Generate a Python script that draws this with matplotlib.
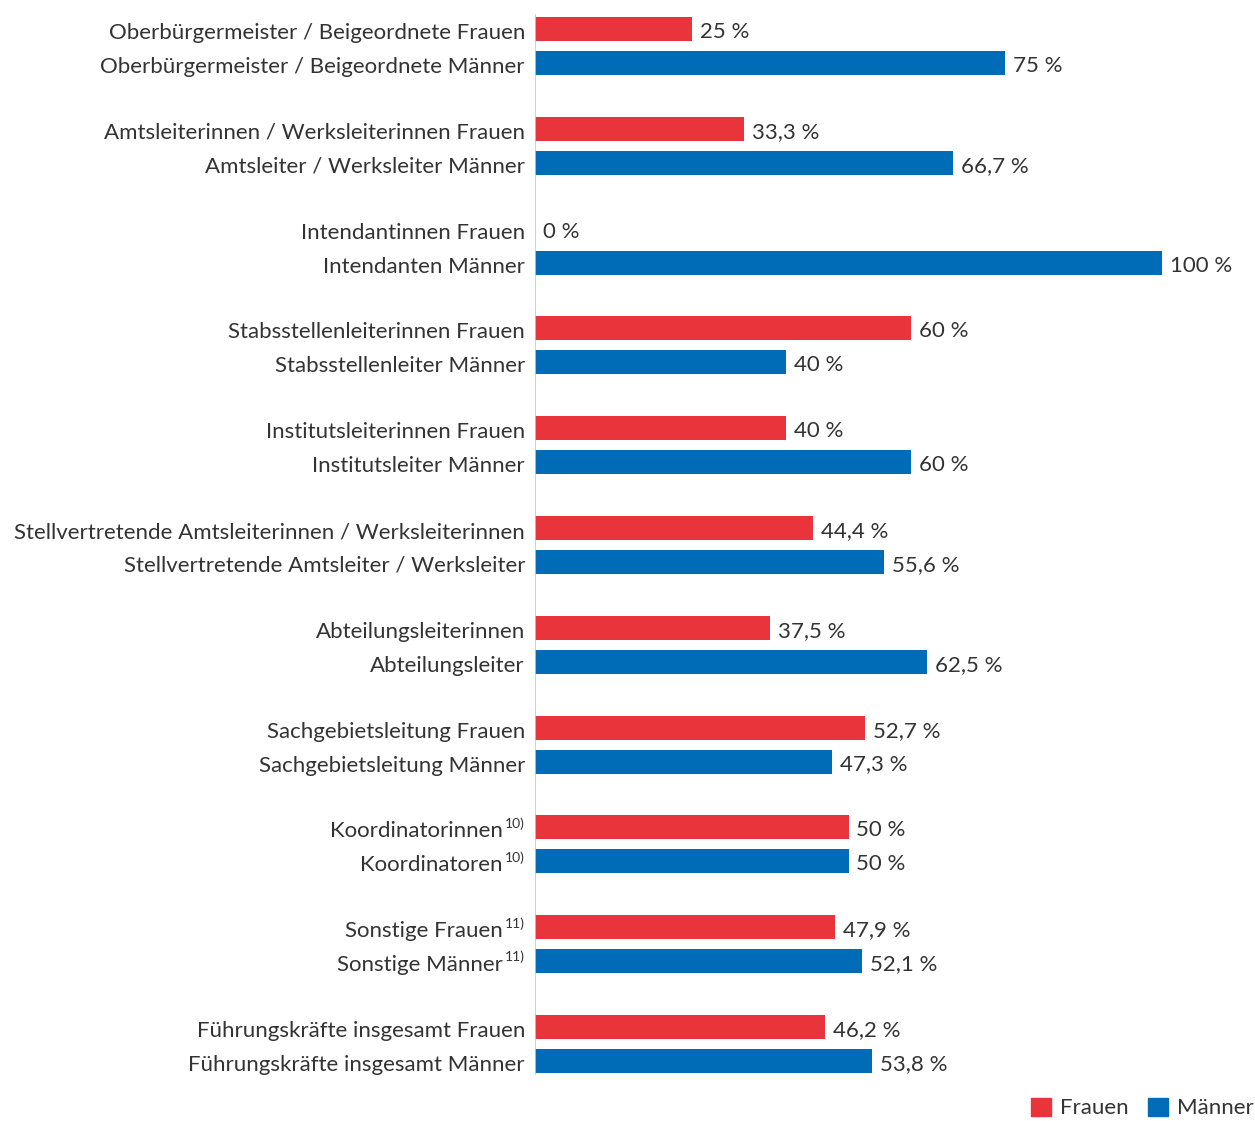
import matplotlib.pyplot as plt
import matplotlib.transforms as mtransforms
from matplotlib.patches import Patch

plt.rcParams['font.family'] = ['Lato', 'DejaVu Sans']

# labels for each group: (Frauen label, Männer label)
labels_f = ["Oberbürgermeister / Beigeordnete Frauen",
            "Amtsleiterinnen / Werksleiterinnen Frauen",
            "Intendantinnen Frauen",
            "Stabsstellenleiterinnen Frauen",
            "Institutsleiterinnen Frauen",
            "Stellvertretende Amtsleiterinnen / Werksleiterinnen",
            "Abteilungsleiterinnen",
            "Sachgebietsleitung Frauen",
            "Koordinatorinnen",
            "Sonstige Frauen",
            "Führungskräfte insgesamt Frauen"]
labels_m = ["Oberbürgermeister / Beigeordnete Männer",
            "Amtsleiter / Werksleiter Männer",
            "Intendanten Männer",
            "Stabsstellenleiter Männer",
            "Institutsleiter Männer",
            "Stellvertretende Amtsleiter / Werksleiter",
            "Abteilungsleiter",
            "Sachgebietsleitung Männer",
            "Koordinatoren",
            "Sonstige Männer",
            "Führungskräfte insgesamt Männer"]
notes = ["", "", "", "", "", "", "", "", "10)", "11)", ""]
frauen = [25, 33.3, 0, 60, 40, 44.4, 37.5, 52.7, 50, 47.9, 46.2]
maenner = [75, 66.7, 100, 40, 60, 55.6, 62.5, 47.3, 50, 52.1, 53.8]

red = '#E8343A'
blue = '#006CB7'
txt = '#333333'

fig = plt.figure(figsize=(12.55, 11.21), dpi=100)
ax = fig.add_axes([535/1255, 0, 1 - 535/1255, 1])
ax.set_xlim(0, (1255-535)/6.27)
ax.set_ylim((1121-46)/99.8, -46/99.8)
ax.axis('off')

n = len(frauen)
yf = [i - 0.17 for i in range(n)]
ym = [i + 0.17 for i in range(n)]
ax.barh(yf, frauen, height=0.24, color=red)
ax.barh(ym, maenner, height=0.24, color=blue)
ax.vlines(0, -0.32, 10.31, color='#c8c8c8', lw=1.2)

def fmt(v):
    s = ('%g' % v).replace('.', ',')
    return s + ' %'

pt = 72/100
lab_off = mtransforms.offset_copy(ax.transData, fig=fig, x=-10*pt, y=-4*pt, units='points')
lab_off2 = mtransforms.offset_copy(ax.transData, fig=fig, x=-32*pt, y=-4*pt, units='points')
sup_off = mtransforms.offset_copy(ax.transData, fig=fig, x=-10*pt, y=4*pt, units='points')
val_off = mtransforms.offset_copy(ax.transData, fig=fig, x=8*pt, y=-3*pt, units='points')

for i in range(n):
    for y, lab, v in [(yf[i], labels_f[i], frauen[i]), (ym[i], labels_m[i], maenner[i])]:
        if notes[i]:
            ax.text(0, y, lab, transform=lab_off2, ha='right', va='center', fontsize=16, color=txt)
            ax.text(0, y, notes[i], transform=sup_off, ha='right', va='center', fontsize=10, color=txt)
        else:
            ax.text(0, y, lab, transform=lab_off, ha='right', va='center', fontsize=16, color=txt)
        ax.text(v, y, fmt(v), transform=val_off, ha='left', va='center', fontsize=16, color=txt)

handles = [Patch(color=red), Patch(color=blue)]
fig.legend(handles, ['Frauen', 'Männer'], loc='center right', bbox_to_anchor=(1.015, 1 - 1108/1121),
           ncol=2, frameon=False, fontsize=16, handlelength=0.9, handleheight=0.9,
           handletextpad=0.4, columnspacing=0.9, labelcolor=txt)

fig.savefig('out.png', dpi=100)
